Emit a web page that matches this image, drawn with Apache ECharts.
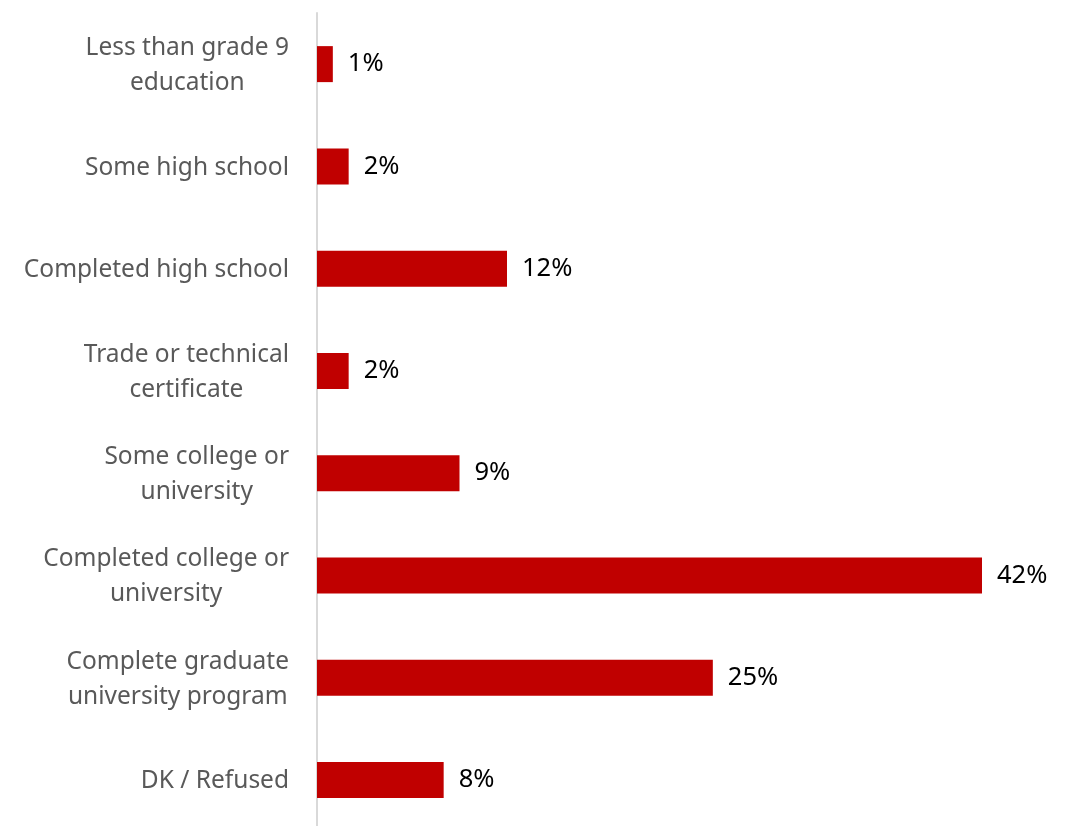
<!DOCTYPE html>
<html>
<head>
<meta charset="utf-8">
<script src="https://cdn.jsdelivr.net/npm/echarts@6/dist/echarts.min.js"></script>
<style>
  html, body { margin: 0; padding: 0; background: #fff; }
  #chart { width: 1065px; height: 826px; }
</style>
</head>
<body>
<div id="chart"></div>
<script>
// Education level categories, top to bottom
const categories = [
  'Less than grade 9\neducation',
  'Some high school',
  'Completed high school',
  'Trade or technical\ncertificate',
  'Some college or\nuniversity',
  'Completed college or\nuniversity',
  'Complete graduate\nuniversity program',
  'DK / Refused'
];
// Share of respondents (%)
const shares = [1, 2, 12, 2, 9, 42, 25, 8];

const labelFont = { fontFamily: 'Noto Sans', fontSize: 24.5, lineHeight: 35, color: '#595959' };

const chart = echarts.init(document.getElementById('chart'));
chart.setOption({
  animation: false,
  grid: {
    left: 317, right: 35.5, top: 13, height: 818,
    containLabel: false,
    outerBoundsMode: 'none'
  },
  xAxis: {
    type: 'value',
    min: 0,
    max: 45,
    show: false,
    splitLine: { show: false }
  },
  yAxis: {
    type: 'category',
    data: categories,
    inverse: true,
    axisLine: { show: true, lineStyle: { color: '#D9D9D9', width: 2 } },
    axisTick: { show: false },
    axisLabel: {
      margin: 28,
      align: 'right',
      padding: [3, 0, 0, 0],
      ...labelFont,
      // each line centred within the right-aligned label block
      formatter: v => v.split('\n').map(s => '{c|' + s + '}').join('\n'),
      rich: { c: { align: 'center', ...labelFont } }
    }
  },
  series: [{
    type: 'bar',
    data: shares,
    barWidth: 36,
    itemStyle: { color: '#C00000' },
    label: {
      show: true,
      position: 'right',
      distance: 15,
      color: '#000',
      fontFamily: 'Noto Sans',
      fontSize: 25.5,
      formatter: p => p.value + '%'
    }
  }]
});
</script>
</body>
</html>
